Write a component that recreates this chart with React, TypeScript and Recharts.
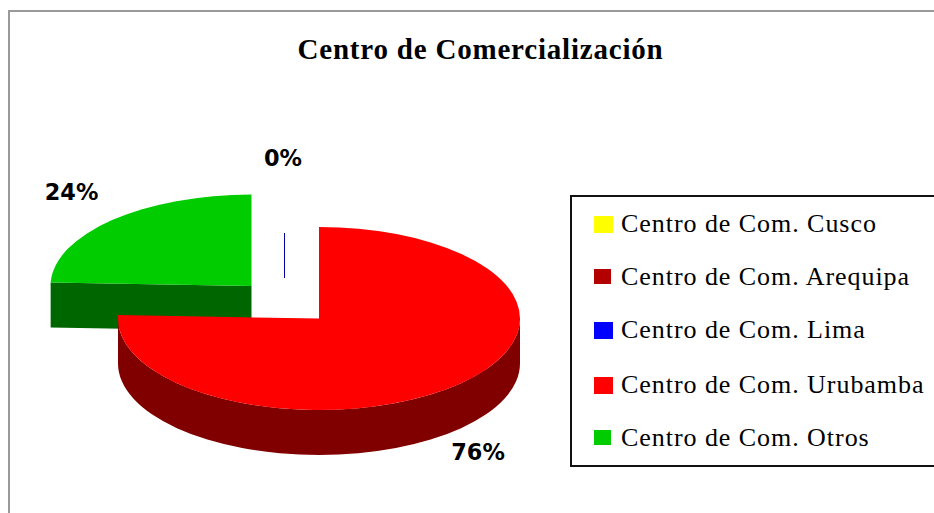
import { PieChart, Pie, Legend } from 'recharts';

const title = 'Centro de Comercialización';

// legend order
const categories = [
  'Centro de Com. Cusco',
  'Centro de Com. Arequipa',
  'Centro de Com. Lima',
  'Centro de Com. Urubamba',
  'Centro de Com. Otros',
];
const shares = [0, 0, 0, 75.6, 24.4];
const topColors = ['#FFFF00', '#B30000', '#0000FF', '#FF0000', '#00CC00'];
const sideColors = ['#808000', '#660000', '#0000A0', '#800000', '#006600'];

// drawn counter-clockwise from 12 o'clock, so Otros goes under Urubamba
const pieData = categories
  .map((name, i) => ({ name, value: shares[i], fill: topColors[i], side: sideColors[i] }))
  .reverse();

const CX = 319;
const CY = 318.5;
const RX = 201;
const TILT = 91.5 / 201;
const DEPTH = 45;

// how far each slice is pulled out of the pie, in px
const explode: Record<string, [number, number]> = {
  'Centro de Com. Lima': [-34.5, -85.5],
  'Centro de Com. Otros': [-67.5, -32.5],
};

// label baseline relative to the rim point at the slice's middle
const labelOffset: Record<string, [number, number]> = {
  'Centro de Com. Lima': [-1.5, 24.5],
  'Centro de Com. Urubamba': [19.6, 75.5],
  'Centro de Com. Otros': [-40.5, -20],
};

// marker rows inside the legend box
const legendRows = [
  { top: 21, w: 19, h: 17 },
  { top: 74, w: 17, h: 15 },
  { top: 127, w: 19, h: 17 },
  { top: 182, w: 19, h: 17 },
  { top: 235, w: 17, h: 15 },
];

const rad = (a: number) => (a * Math.PI) / 180;

const Slice3D = (props: any) => {
  const { cx, cy, outerRadius, startAngle, endAngle, fill, payload } = props;
  const [dx, dy] = explode[payload.name] ?? [0, 0];
  const x0 = cx + dx;
  const y0 = cy + dy;
  const rx = outerRadius;
  const ry = outerRadius * TILT;
  const pt = (a: number, down = 0) =>
    `${x0 + rx * Math.cos(rad(a))} ${y0 - ry * Math.sin(rad(a)) + down}`;

  // a zero slice only shows its edge
  if (endAngle - startAngle === 0) {
    if (payload.name !== 'Centro de Com. Lima') return <g />;
    return <line x1={x0} x2={x0} y1={y0} y2={y0 + DEPTH} stroke={payload.side} strokeWidth={1} />;
  }

  const large = endAngle - startAngle > 180 ? 1 : 0;
  const top = `M ${x0} ${y0} L ${pt(startAngle)} A ${rx} ${ry} 0 ${large} 0 ${pt(endAngle)} Z`;

  const wallFrom = Math.max(startAngle, 180);
  const wallTo = Math.min(endAngle, 360);
  const wall =
    wallFrom < wallTo
      ? `M ${pt(wallFrom)} A ${rx} ${ry} 0 0 0 ${pt(wallTo)} L ${pt(wallTo, DEPTH)} A ${rx} ${ry} 0 0 1 ${pt(wallFrom, DEPTH)} Z`
      : null;

  const showCut = endAngle > 90 && endAngle < 270;
  const cut = showCut
    ? `M ${x0} ${y0} L ${pt(endAngle)} L ${pt(endAngle, DEPTH)} L ${x0} ${y0 + DEPTH} Z`
    : null;

  return (
    <g>
      {cut && <path d={cut} fill={payload.side} />}
      {wall && <path d={wall} fill={payload.side} />}
      <path d={top} fill={fill} />
    </g>
  );
};

const renderLabel = (props: any) => {
  const { cx, cy, outerRadius, midAngle, percent, name } = props;
  const off = labelOffset[name];
  if (!off) return <g />;
  const [dx, dy] = explode[name] ?? [0, 0];
  const x = cx + dx + outerRadius * Math.cos(rad(midAngle)) + off[0];
  const y = cy + dy - outerRadius * TILT * Math.sin(rad(midAngle)) + off[1];
  return (
    <text
      x={x}
      y={y}
      textAnchor="middle"
      fill="#000"
      style={{ fontFamily: 'DejaVu Sans', fontWeight: 700, fontSize: 22.4 }}
    >
      {`${Math.round(percent * 100)}%`}
    </text>
  );
};

const LegendBox = () => (
  <div
    style={{
      position: 'relative',
      width: 364,
      height: 272,
      boxSizing: 'border-box',
      border: '2px solid #111',
      borderRight: 'none',
      background: '#fff',
      fontFamily: 'Liberation Serif',
      fontSize: 26,
      color: '#000',
    }}
  >
    {categories.map((name, i) => (
      <div key={name}>
        <span
          style={{
            position: 'absolute',
            left: 22,
            top: legendRows[i].top - 2,
            width: legendRows[i].w,
            height: legendRows[i].h,
            background: topColors[i],
          }}
        />
        <span
          style={{
            position: 'absolute',
            left: 49,
            top: legendRows[i].top - 9,
            whiteSpace: 'nowrap',
            letterSpacing: 0.95,
          }}
        >
          {name}
        </span>
      </div>
    ))}
  </div>
);

export default function App() {
  return (
    <div style={{ position: 'absolute', left: 0, top: 0, width: 934, height: 513, overflow: 'hidden', background: '#fff' }}>
      <div
        style={{
          position: 'absolute',
          left: 8,
          top: 10,
          width: 926,
          height: 503,
          boxSizing: 'border-box',
          borderLeft: '2px solid #999',
          borderTop: '2px solid #999',
        }}
      />
      <PieChart
        width={934}
        height={513}
        margin={{ top: 0, right: 0, bottom: 0, left: 0 }}
        style={{ position: 'absolute', left: 0, top: 0 }}
      >
        <text
          x={480.5}
          y={59}
          textAnchor="middle"
          fill="#000"
          style={{ fontFamily: 'Liberation Serif', fontWeight: 700, fontSize: 29, letterSpacing: 0.8 }}
        >
          {title}
        </text>
        <Pie
          data={pieData}
          dataKey="value"
          nameKey="name"
          cx={CX}
          cy={CY}
          outerRadius={RX}
          startAngle={90}
          endAngle={450}
          stroke="none"
          shape={Slice3D}
          label={renderLabel}
          labelLine={false}
          isAnimationActive={false}
        />
        <Legend
          content={<LegendBox />}
          wrapperStyle={{ position: 'absolute', left: 570, top: 195, width: 364, bottom: 'auto' }}
        />
      </PieChart>
    </div>
  );
}
